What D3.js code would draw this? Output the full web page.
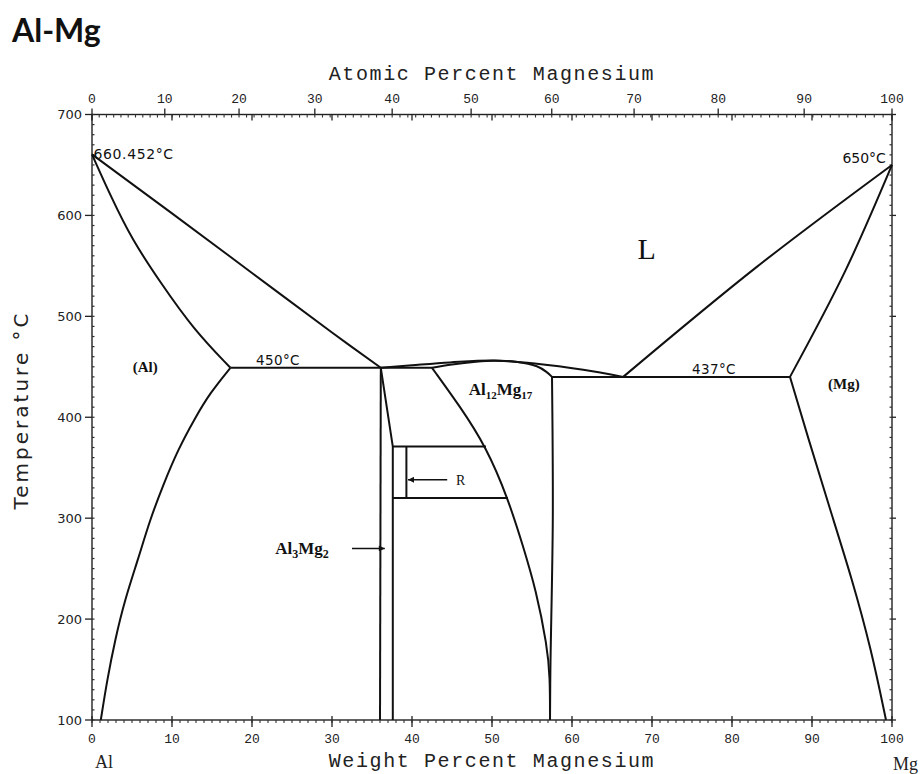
<!DOCTYPE html>
<html><head><meta charset="utf-8">
<script src="https://cdn.jsdelivr.net/npm/d3@7"></script>
<style>
body{margin:0;background:#fff;}
svg{display:block;}
</style></head>
<body>
<svg id="c" width="921" height="774"></svg>
<script>
// ---------- data: phase boundaries as [wt% Mg, temperature °C] ----------
const alLiquidus = [[0,660.45],[10,602],[20,543],[30,484],[36.1,449]];
const alSolidus = [[0,660.45],[2.4,618],[5,576],[8.6,533],[12.7,487],[17.3,449]];
const alSolvus = [[17.3,449],[14.75,424],[12.9,399.5],[10.75,368],[8.9,333],[7.25,298.5],[5.75,259],[4.1,219],[2.9,180],[1.9,140],[1.1,100]];
const eutectic450 = [[17.3,449],[36.1,449]];
const betaLeft = [[36.1,449],[36.0,100]];
const betaRight = [[36.1,449],[37.6,371],[37.6,100]];
const betaGammaEutectic = [[36.1,449],[42.5,449]];
const gammaLiquidus = [[36.1,449],[40,451.5],[44.75,454.3],[50.2,456.2],[55.6,453],[61.4,447],[66.4,440]];
const gammaSolidus = [[42.5,449],[45,452.3],[48,455],[50.2,456],[53,455],[55.6,450.5],[56.8,445],[57.5,440]];
const gammaSolvusLeft = [[42.5,449],[46,410.7],[49.25,371],[52,319.6],[53.9,271.8],[55.5,229],[56.9,173],[57.25,143],[57.25,100]];
const gammaRight = [[57.5,440],[57.6,300],[57.3,150],[57.25,100]];
const eutectic437 = [[57.5,440],[87.25,440]];
const mgLiquidus = [[66.4,440],[83.1,549],[100,650]];
const mgSolidus = [[87.25,440],[94.1,544],[100,650]];
const mgSolvus = [[87.25,440],[89.5,380],[92.2,310],[95,240],[97.4,170],[99.25,100]];
const rTop = [[37.6,371],[49.25,371]];
const rBottom = [[37.6,320],[52,320]];
const rVertical = [[39.3,371],[39.3,320]];

// tick labels
const tempTicks = [100,200,300,400,500,600,700];
const wtTicks = [0,10,20,30,40,50,60,70,80,90,100];
const atTicks = [0,10,20,30,40,50,60,70,80,90,100];
const massAl = 26.9815, massMg = 24.305;

// ---------- drawing ----------
const svg = d3.select("#c");
const x = d3.scaleLinear().domain([0,100]).range([92,892]);
const y = d3.scaleLinear().domain([100,700]).range([720,114.5]);
const atToWt = a => 100*a*massMg/(a*massMg+(100-a)*massAl);

const serif = "'Liberation Serif','DejaVu Serif',serif";
const mono = "'Liberation Mono','DejaVu Sans Mono',monospace";
const sans = "'DejaVu Sans','Liberation Sans',sans-serif";

// title
svg.append("text").attr("x",12).attr("y",42).attr("font-family","Lato, 'Open Sans', sans-serif")
  .attr("font-weight","bold").attr("font-size",32).attr("fill","#111").text("Al-Mg");

const g = svg.append("g");
// frame
g.append("rect").attr("x",x(0)).attr("y",y(700)).attr("width",x(100)-x(0)).attr("height",y(100)-y(700))
  .attr("fill","none").attr("stroke","#222").attr("stroke-width",1.4);

// left & right temperature ticks
const minorT = d3.range(100,701,10);
minorT.forEach(t=>{
  g.append("line").attr("x1",x(0)).attr("x2",x(0)+2.5).attr("y1",y(t)).attr("y2",y(t)).attr("stroke","#333").attr("stroke-width",1.2);
  g.append("line").attr("x1",x(100)).attr("x2",x(100)-2.5).attr("y1",y(t)).attr("y2",y(t)).attr("stroke","#333").attr("stroke-width",1.2);
});
tempTicks.forEach(t=>{
  g.append("line").attr("x1",x(0)-7).attr("x2",x(0)).attr("y1",y(t)).attr("y2",y(t)).attr("stroke","#222").attr("stroke-width",1.3);
  g.append("line").attr("x1",x(100)).attr("x2",x(100)+4).attr("y1",y(t)).attr("y2",y(t)).attr("stroke","#222").attr("stroke-width",1.3);
  g.append("text").attr("x",x(0)-10).attr("y",y(t)).attr("dy","0.35em").attr("text-anchor","end")
    .attr("font-family",sans).attr("font-size",13).attr("fill","#222").text(t);
});

// bottom weight ticks
d3.range(0,101,1).forEach(w=>{
  g.append("line").attr("x1",x(w)).attr("x2",x(w)).attr("y1",y(100)).attr("y2",y(100)+3).attr("stroke","#333").attr("stroke-width",1.1);
});
wtTicks.forEach(w=>{
  g.append("line").attr("x1",x(w)).attr("x2",x(w)).attr("y1",y(100)-4).attr("y2",y(100)+7).attr("stroke","#222").attr("stroke-width",1.3);
  g.append("text").attr("x",x(w)).attr("y",y(100)+18).attr("dy","0.35em").attr("text-anchor","middle")
    .attr("font-family",mono).attr("font-size",13).attr("fill","#222").text(w);
  // weight ticks on top (inside)
  g.append("line").attr("x1",x(w)).attr("x2",x(w)).attr("y1",y(700)).attr("y2",y(700)+6).attr("stroke","#222").attr("stroke-width",1.3);
});

// top atomic ticks
d3.range(0,101,1).forEach(a=>{
  g.append("line").attr("x1",x(atToWt(a))).attr("x2",x(atToWt(a))).attr("y1",y(700)).attr("y2",y(700)+3).attr("stroke","#333").attr("stroke-width",1.1);
});
atTicks.forEach(a=>{
  g.append("line").attr("x1",x(atToWt(a))).attr("x2",x(atToWt(a))).attr("y1",y(700)-6).attr("y2",y(700)).attr("stroke","#222").attr("stroke-width",1.3);
  g.append("text").attr("x",x(atToWt(a))).attr("y",y(700)-16).attr("dy","0.35em").attr("text-anchor","middle")
    .attr("font-family",mono).attr("font-size",13).attr("fill","#222").text(a);
});

// axis titles
svg.append("text").attr("x",492).attr("y",80).attr("text-anchor","middle").attr("font-family",mono)
  .attr("font-size",20).attr("letter-spacing",1.6).attr("fill","#222").text("Atomic Percent Magnesium");
svg.append("text").attr("x",492).attr("y",767).attr("text-anchor","middle").attr("font-family",mono)
  .attr("font-size",20).attr("letter-spacing",1.6).attr("fill","#222").text("Weight Percent Magnesium");
svg.append("text").attr("transform","translate(28,410) rotate(-90)").attr("text-anchor","middle")
  .attr("font-family",sans).attr("font-size",20).attr("letter-spacing",3).attr("fill","#222").text("Temperature °C");
svg.append("text").attr("x",95).attr("y",768).attr("font-family",serif).attr("font-size",18).attr("fill","#222").text("Al");
svg.append("text").attr("x",893).attr("y",770).attr("font-family",serif).attr("font-size",18).attr("fill","#222").text("Mg");

// phase boundaries
const curve = d3.line().x(d=>x(d[0])).y(d=>y(d[1])).curve(d3.curveCatmullRom.alpha(0.5));
const smooth = d3.line().x(d=>x(d[0])).y(d=>y(d[1])).curve(d3.curveBasis);
const straight = d3.line().x(d=>x(d[0])).y(d=>y(d[1]));
const curves = [alLiquidus, gammaLiquidus, gammaSolidus, gammaRight, mgLiquidus, mgSolidus];
const smoothCurves = [alSolidus, alSolvus, gammaSolvusLeft, mgSolvus];
const lines = [eutectic450, betaLeft, betaRight, betaGammaEutectic, eutectic437, rTop, rBottom, rVertical];
curves.forEach(d=>g.append("path").attr("d",curve(d)).attr("fill","none").attr("stroke","#111").attr("stroke-width",2));
smoothCurves.forEach(d=>g.append("path").attr("d",smooth(d)).attr("fill","none").attr("stroke","#111").attr("stroke-width",2));
lines.forEach(d=>g.append("path").attr("d",straight(d)).attr("fill","none").attr("stroke","#111").attr("stroke-width",2));

// arrows
const defs = svg.append("defs");
defs.append("marker").attr("id","ah").attr("viewBox","0 0 10 10").attr("refX",10).attr("refY",5)
  .attr("markerWidth",9).attr("markerHeight",6).attr("orient","auto").attr("markerUnits","userSpaceOnUse")
  .append("path").attr("d","M0,0L10,5L0,10Z").attr("fill","#111");
g.append("line").attr("x1",x(44.4)).attr("y1",y(338)).attr("x2",x(39.5)).attr("y2",y(338))
  .attr("stroke","#111").attr("stroke-width",1.6).attr("marker-end","url(#ah)");
g.append("line").attr("x1",x(32.5)).attr("y1",y(270)).attr("x2",x(36.6)).attr("y2",y(270))
  .attr("stroke","#111").attr("stroke-width",1.6).attr("marker-end","url(#ah)");

// labels
function lab(t,xx,yy,size,opts={}){
  return g.append("text").attr("x",x(xx)).attr("y",y(yy)).attr("font-family",opts.font||serif)
    .attr("font-size",size).attr("font-weight",opts.bold?"bold":"normal").attr("text-anchor",opts.anchor||"start")
    .attr("letter-spacing",opts.ls||0).attr("fill","#111").text(t);
}
lab("660.452°C",0.2,656,14,{font:sans,ls:0.6});
lab("650°C",93.8,652,14,{font:sans});
lab("L",68.2,557,30,{});
lab("(Al)",5.1,445,15,{bold:true});
lab("450°C",20.5,452,13.5,{font:sans,ls:0.4});
lab("437°C",75,443,13.5,{font:sans,ls:0.4});
lab("(Mg)",92,428,15,{bold:true});
lab("R",45.5,333,14,{});
// Al12Mg17
const t1 = g.append("text").attr("x",x(47.1)).attr("y",y(422)).attr("font-family",serif).attr("font-size",17)
  .attr("font-weight","bold").attr("fill","#111");
t1.append("tspan").text("Al");
t1.append("tspan").attr("font-size",11).attr("dy",4).text("12");
t1.append("tspan").attr("dy",-4).text("Mg");
t1.append("tspan").attr("font-size",11).attr("dy",4).text("17");
// Al3Mg2
const t2 = g.append("text").attr("x",x(22.9)).attr("y",y(264.5)).attr("font-family",serif).attr("font-size",17)
  .attr("font-weight","bold").attr("fill","#111");
t2.append("tspan").text("Al");
t2.append("tspan").attr("font-size",12).attr("dy",4).text("3");
t2.append("tspan").attr("dy",-4).text("Mg");
t2.append("tspan").attr("font-size",12).attr("dy",4).text("2");
</script>
</body></html>
